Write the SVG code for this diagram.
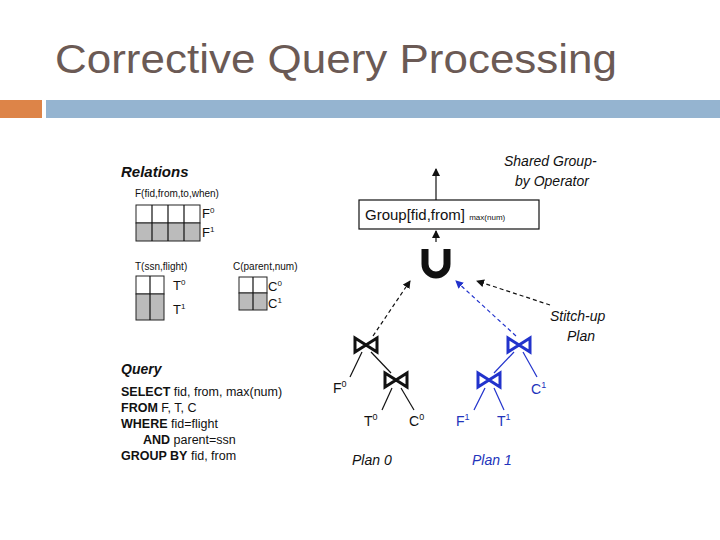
<svg xmlns="http://www.w3.org/2000/svg" width="720" height="540" viewBox="0 0 720 540">
<style>
text{font-family:"Liberation Sans",Arial,sans-serif}
.t{fill:#111}
.b{fill:#2233bb}
.bt{fill:none;stroke:#111;stroke-width:3}
.bb{fill:none;stroke:#2233cc;stroke-width:3}
.ln{stroke:#111;stroke-width:1.2}
.lb{stroke:#2233cc;stroke-width:1.2}
.cell{fill:#fff;stroke:#222;stroke-width:1}
.g{fill:#bbb;stroke:#222;stroke-width:1}
</style>
<defs>
<marker id="ak" markerWidth="8" markerHeight="8" refX="7" refY="4" orient="auto" markerUnits="userSpaceOnUse"><path d="M0,0L8,4L0,8z" fill="#111"/></marker>
<marker id="ab" markerWidth="8" markerHeight="8" refX="7" refY="4" orient="auto" markerUnits="userSpaceOnUse"><path d="M0,0L8,4L0,8z" fill="#2233cc"/></marker>
</defs>
<rect width="720" height="540" fill="#fff"/>
<text x="55" y="73" font-size="41" fill="#6b5a55" textLength="562" lengthAdjust="spacingAndGlyphs">Corrective Query Processing</text>
<rect x="0" y="100" width="42" height="18" fill="#dd8448"/>
<rect x="46" y="100" width="674" height="18" fill="#95b4d0"/>

<g id="relations">
<text x="121" y="177" font-size="15" font-weight="bold" font-style="italic" class="t">Relations</text>
<text x="135" y="197" font-size="10" class="t">F(fid,from,to,when)</text>
<rect x="136" y="205" width="64" height="18" class="cell"/>
<rect x="136" y="223" width="64" height="18" class="g"/>
<path d="M152,205V241M168,205V241M184,205V241" class="ln"/>
<text x="202" y="218" font-size="13" class="t">F<tspan dy="-5" font-size="8">0</tspan></text>
<text x="202" y="237" font-size="13" class="t">F<tspan dy="-5" font-size="8">1</tspan></text>
<text x="135" y="270" font-size="10" class="t">T(ssn,flight)</text>
<rect x="136" y="276" width="28" height="18" class="cell"/>
<rect x="136" y="294" width="28" height="26" class="g"/>
<path d="M150,276V320" class="ln"/>
<text x="173" y="290" font-size="13" class="t">T<tspan dy="-5" font-size="8">0</tspan></text>
<text x="173" y="314" font-size="13" class="t">T<tspan dy="-5" font-size="8">1</tspan></text>
<text x="233" y="270" font-size="10" class="t">C(parent,num)</text>
<rect x="239" y="277" width="28" height="16" class="cell"/>
<rect x="239" y="293" width="28" height="17" class="g"/>
<path d="M253,277V310" class="ln"/>
<text x="268" y="291" font-size="13" class="t">C<tspan dy="-5" font-size="8">0</tspan></text>
<text x="268" y="308" font-size="13" class="t">C<tspan dy="-5" font-size="8">1</tspan></text>
</g>

<g id="query" font-size="12.5" class="t">
<text x="121" y="374" font-size="14" font-weight="bold" font-style="italic">Query</text>
<text x="121" y="396"><tspan font-weight="bold">SELECT</tspan> fid, from, max(num)</text>
<text x="121" y="412"><tspan font-weight="bold">FROM</tspan> F, T, C</text>
<text x="121" y="428"><tspan font-weight="bold">WHERE</tspan> fid=flight</text>
<text x="143" y="444"><tspan font-weight="bold">AND</tspan> parent=ssn</text>
<text x="121" y="460"><tspan font-weight="bold">GROUP BY</tspan> fid, from</text>
</g>

<g id="connectors">
<line x1="436" y1="200" x2="436" y2="169" class="ln" marker-end="url(#ak)"/>
<line x1="436" y1="242" x2="436" y2="231" class="ln" marker-end="url(#ak)"/>
<line x1="373" y1="336" x2="410" y2="281" class="ln" stroke-dasharray="4,3" marker-end="url(#ak)"/>
<line x1="516" y1="336" x2="456" y2="281" class="lb" stroke-dasharray="4,3" marker-end="url(#ab)"/>
<line x1="550" y1="305" x2="477" y2="281" class="ln" stroke-dasharray="4,3" marker-end="url(#ak)"/>
<line x1="362" y1="352" x2="350" y2="377" class="ln"/>
<line x1="371" y1="352" x2="391" y2="373" class="ln"/>
<line x1="392" y1="388" x2="382" y2="410" class="ln"/>
<line x1="401" y1="388" x2="414" y2="410" class="ln"/>
<line x1="514" y1="352" x2="494" y2="373" class="lb"/>
<line x1="523" y1="352" x2="537" y2="377" class="lb"/>
<line x1="485" y1="388" x2="474" y2="410" class="lb"/>
<line x1="494" y1="388" x2="504" y2="410" class="lb"/>
</g>

<g id="group-op">
<rect x="359" y="200" width="180" height="29" fill="#fff" stroke="#111" stroke-width="1.2"/>
<text x="365" y="220" font-size="15" class="t">Group[fid,from] <tspan font-size="8">max(num)</tspan></text>
<text x="504" y="166" font-size="14" font-style="italic" class="t">Shared Group-</text>
<text x="515" y="186" font-size="14" font-style="italic" class="t">by Operator</text>
</g>
<g id="union"><path d="M425,249V264A11,11 0 0 0 447,264V249" fill="none" stroke="#111" stroke-width="7"/></g>
<text x="550" y="321" font-size="14" font-style="italic" class="t">Stitch-up</text>
<text x="567" y="341" font-size="14" font-style="italic" class="t">Plan</text>

<g id="plan0">
<path d="M355,338L366,345L355,352ZM377,338L366,345L377,352Z" class="bt"/>
<path d="M385,373L396,380L385,387ZM407,373L396,380L407,387Z" class="bt"/>
<text x="333" y="393" font-size="14" class="t">F<tspan dy="-6" font-size="9">0</tspan></text>
<text x="364" y="426" font-size="14" class="t">T<tspan dy="-6" font-size="9">0</tspan></text>
<text x="409" y="426" font-size="14" class="t">C<tspan dy="-6" font-size="9">0</tspan></text>
<text x="352" y="465" font-size="14" font-style="italic" class="t">Plan 0</text>
</g>
<g id="plan1">
<path d="M508,338L519,345L508,352ZM530,338L519,345L530,352Z" class="bb"/>
<path d="M478,373L489,380L478,387ZM500,373L489,380L500,387Z" class="bb"/>
<text x="531" y="394" font-size="14" class="b">C<tspan dy="-6" font-size="9">1</tspan></text>
<text x="456" y="426" font-size="14" class="b">F<tspan dy="-6" font-size="9">1</tspan></text>
<text x="497" y="426" font-size="14" class="b">T<tspan dy="-6" font-size="9">1</tspan></text>
<text x="472" y="465" font-size="14" font-style="italic" class="b">Plan 1</text>
</g>
</svg>
